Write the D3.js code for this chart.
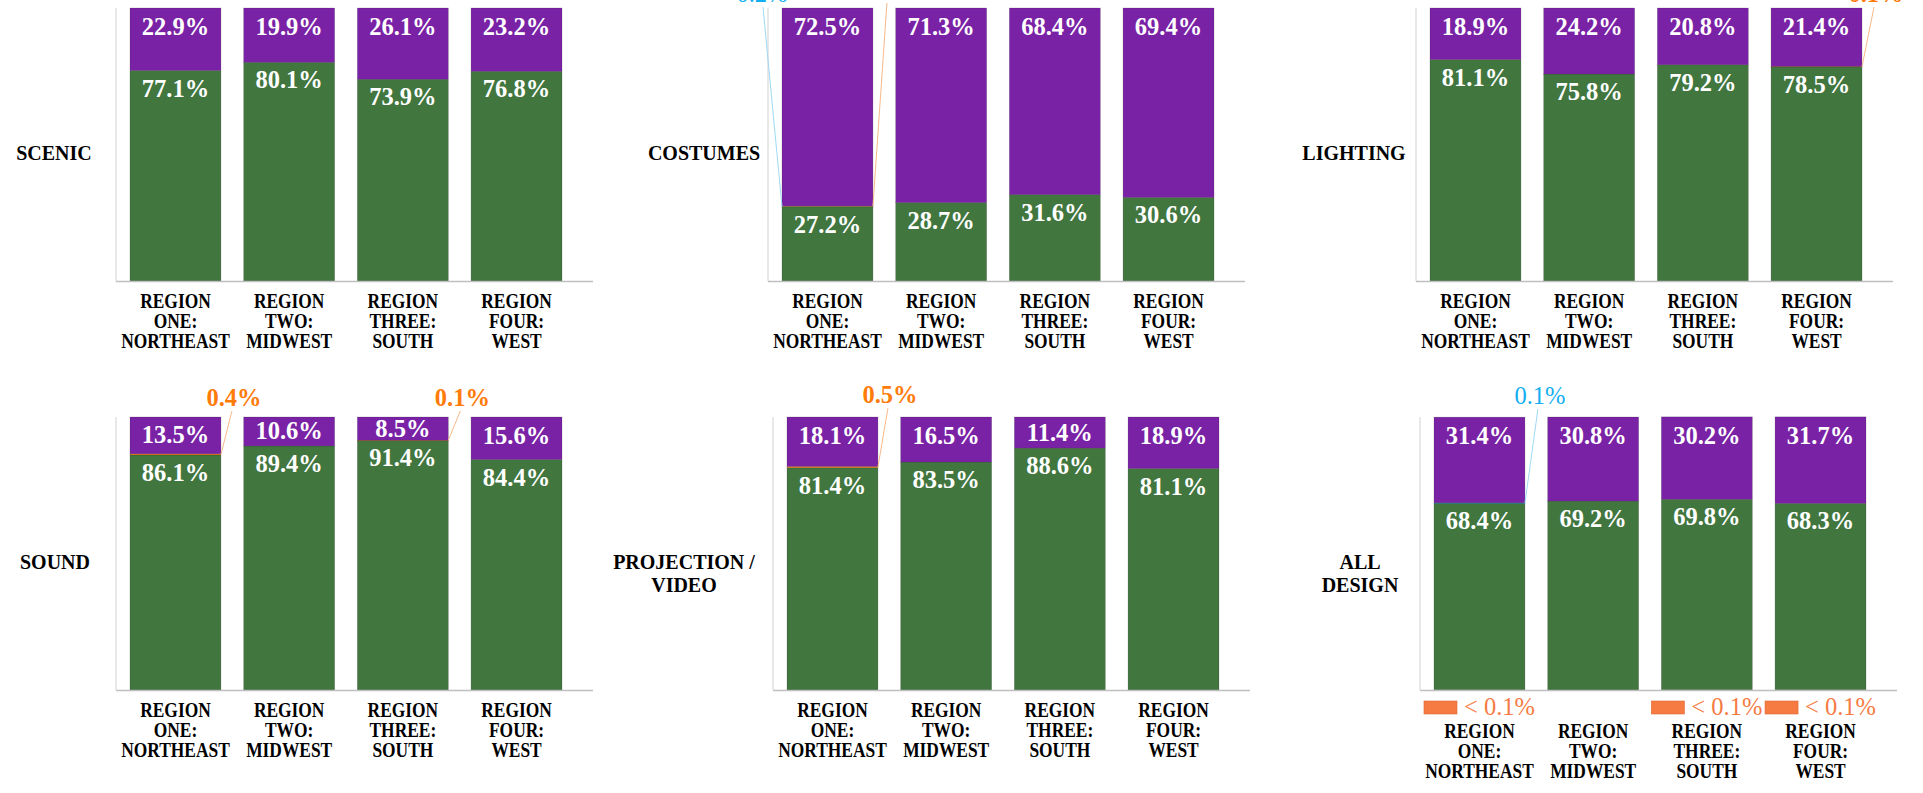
<!DOCTYPE html>
<html>
<head>
<meta charset="utf-8">
<script src="https://cdn.jsdelivr.net/npm/d3@7"></script>
<style>
html,body{margin:0;padding:0;background:#ffffff;overflow:hidden}
svg{display:block}
text{font-family:"Liberation Serif","Tinos","Times New Roman",serif;font-weight:bold}
</style>
</head>
<body>
<svg id="chart" width="1923" height="793"></svg>
<script>
// ---------------- DATA ----------------
const charts = ["SCENIC", "COSTUMES", "LIGHTING", "SOUND", "PROJECTION / VIDEO", "ALL DESIGN"];
const chartLabelLines = [["SCENIC"], ["COSTUMES"], ["LIGHTING"], ["SOUND"], ["PROJECTION /", "VIDEO"], ["ALL", "DESIGN"]];
const regions = ["REGION ONE: NORTHEAST", "REGION TWO: MIDWEST", "REGION THREE: SOUTH", "REGION FOUR: WEST"];
const regionLabelLines = [["REGION", "ONE:", "NORTHEAST"], ["REGION", "TWO:", "MIDWEST"], ["REGION", "THREE:", "SOUTH"], ["REGION", "FOUR:", "WEST"]];

// one row per chart, one value per region (percent)
const greenValues = [
  [77.1, 80.1, 73.9, 76.8],
  [27.2, 28.7, 31.6, 30.6],
  [81.1, 75.8, 79.2, 78.5],
  [86.1, 89.4, 91.4, 84.4],
  [81.4, 83.5, 88.6, 81.1],
  [68.4, 69.2, 69.8, 68.3]
];
const purpleValues = [
  [22.9, 19.9, 26.1, 23.2],
  [72.5, 71.3, 68.4, 69.4],
  [18.9, 24.2, 20.8, 21.4],
  [13.5, 10.6, 8.5, 15.6],
  [18.1, 16.5, 11.4, 18.9],
  [31.4, 30.8, 30.2, 31.7]
];
const orangeValues = [
  [0, 0, 0, 0],
  [0.1, 0, 0, 0],
  [0, 0, 0, 0.1],
  [0.4, 0, 0.1, 0],
  [0.5, 0, 0, 0],
  [0, 0, 0, 0]
];
const blueValues = [
  [0, 0, 0, 0],
  [0.2, 0, 0, 0],
  [0, 0, 0, 0],
  [0, 0, 0, 0],
  [0, 0, 0, 0],
  [0.1, 0, 0, 0]
];
// shown as "< 0.1%"
const coralValues = [
  [0, 0, 0, 0],
  [0, 0, 0, 0],
  [0, 0, 0, 0],
  [0, 0, 0, 0],
  [0, 0, 0, 0],
  [0.05, 0, 0.05, 0.05]
];
// small segments labelled with leader lines
const callouts = [
  {chart: 1, region: 0, key: "blue"},
  {chart: 1, region: 0, key: "orange"},
  {chart: 2, region: 3, key: "orange"},
  {chart: 3, region: 0, key: "orange"},
  {chart: 3, region: 2, key: "orange"},
  {chart: 4, region: 0, key: "orange"},
  {chart: 5, region: 0, key: "blue"}
];

// ---------------- LAYOUT / STYLE ----------------
const panelLayout = [
  {ax: 116,  top: 8,   base: 281, lx: 54},
  {ax: 768,  top: 8,   base: 281, lx: 704},
  {ax: 1416, top: 8,   base: 281, lx: 1354},
  {ax: 116,  top: 417, base: 690, lx: 55},
  {ax: 773,  top: 417, base: 690, lx: 684},
  {ax: 1420, top: 417, base: 690, lx: 1360}
];
const calloutLayout = [
  {side: "left",  dx: -20, dy: -6},
  {side: "right", dx: 16,  dy: -10},
  {side: "right", dx: 14,  dy: -6},
  {side: "right", dx: 13,  dy: -11},
  {side: "right", dx: 14,  dy: -11},
  {side: "right", dx: 12,  dy: -14},
  {side: "right", dx: 15,  dy: -13}
];
const plotWidth = 477;
const colors = {green: "#41763F", purple: "#7A22A6", orange: "#FF7B0A", blue: "#12AEF2", coral: "#F57B43"};
const lineColors = {orange: "#F9B98A", blue: "#9ED9F5"};
const calloutWeight = {orange: "bold", blue: "normal"};
const keys = ["coral", "green", "blue", "orange", "purple"];
const seriesArrays = {green: greenValues, purple: purpleValues, orange: orangeValues, blue: blueValues, coral: coralValues};

const svg = d3.select("#chart");
const fmt = v => v.toFixed(1) + "%";

charts.forEach((chartName, ci) => {
  const L = panelLayout[ci];
  const g = svg.append("g");

  const rows = regions.map((r, ri) => {
    const o = {region: r, ri};
    keys.forEach(k => o[k] = seriesArrays[k][ci][ri]);
    return o;
  });
  const stacked = d3.stack().keys(keys)(rows);

  const x = d3.scaleBand().domain(regions)
    .range([L.ax + 14, L.ax + 14 + 432]).paddingInner(0.2).paddingOuter(0);
  const y = d3.scaleLinear().domain([0, 100]).range([L.base, L.top]);

  // y axis line
  g.append("line").attr("x1", L.ax).attr("x2", L.ax).attr("y1", L.top).attr("y2", L.base)
    .attr("stroke", "#D9D9D9").attr("stroke-width", 1.2);

  // bars
  stacked.forEach(layer => {
    g.append("g").selectAll("rect").data(layer.filter(d => d[1] - d[0] > 0)).join("rect")
      .attr("x", d => x(d.data.region))
      .attr("width", x.bandwidth())
      .attr("y", d => y(d[1]))
      .attr("height", d => Math.max(0.6, y(d[0]) - y(d[1])))
      .attr("fill", colors[layer.key])
      .attr("stroke", layer.key === "coral" ? "none" : "rgba(40,40,40,0.3)")
      .attr("stroke-width", 0.6);
  });

  // x axis line
  g.append("line").attr("x1", L.ax).attr("x2", L.ax + plotWidth).attr("y1", L.base + 0.5).attr("y2", L.base + 0.5)
    .attr("stroke", "#BFBFBF").attr("stroke-width", 1.3);

  // value labels in green and purple segments
  const layerOf = k => stacked.find(s => s.key === k);
  layerOf("green").forEach(d => {
    g.append("text").attr("x", x(d.data.region) + x.bandwidth() / 2).attr("y", y(d[1]) + 26)
      .attr("text-anchor", "middle").attr("fill", "#fff").attr("font-size", 24.5).text(fmt(d.data.green));
  });
  layerOf("purple").forEach(d => {
    const h = y(d[0]) - y(d[1]);
    g.append("text").attr("x", x(d.data.region) + x.bandwidth() / 2).attr("y", y(d[1]) + Math.min(27, h / 2 + 8))
      .attr("text-anchor", "middle").attr("fill", "#fff").attr("font-size", 24.5).text(fmt(d.data.purple));
  });

  // "< 0.1%" labels with key below axis
  const hasCoral = coralValues[ci].some(v => v > 0);
  layerOf("coral").forEach(d => {
    if (!(d.data.coral > 0)) return;
    const cx = x(d.data.region) + x.bandwidth() / 2;
    const grp = g.append("g");
    const t = grp.append("text").attr("y", L.base + 25).attr("fill", colors.coral).attr("font-size", 24.5)
      .style("font-weight", "normal").text(d.data.coral < 0.1 ? "< 0.1%" : fmt(d.data.coral));
    const tw = t.node().getComputedTextLength();
    const total = 33 + 7 + tw;
    const left = cx - total / 2;
    grp.append("rect").attr("x", left).attr("y", L.base + 11).attr("width", 33).attr("height", 13)
      .attr("fill", colors.coral).attr("stroke", "#E0672F").attr("stroke-width", 0.6);
    t.attr("x", left + 40);
  });

  // category labels (condensed)
  const catShift = hasCoral ? 21 : 0;
  regions.forEach((r, ri) => {
    const cx = x(r) + x.bandwidth() / 2;
    regionLabelLines[ri].forEach((line, li) => {
      g.append("text").attr("transform", `translate(${cx},${L.base + 27 + catShift + li * 20}) scale(0.87,1)`)
        .attr("text-anchor", "middle").attr("fill", "#000").attr("font-size", 20).text(line);
    });
  });

  // chart name label
  const mid = (L.top + L.base) / 2;
  chartLabelLines[ci].forEach((line, li) => {
    g.append("text").attr("x", L.lx).attr("y", mid + 15 + li * 23)
      .attr("text-anchor", "middle").attr("fill", "#000").attr("font-size", 20).text(line);
  });

  // callouts with leader lines
  callouts.forEach((c, k) => {
    if (c.chart !== ci) return;
    const lay = calloutLayout[k];
    const d = layerOf(c.key)[c.region];
    const bx = x(regions[c.region]);
    const edge = lay.side === "right" ? bx + x.bandwidth() : bx;
    const sy = (y(d[0]) + y(d[1])) / 2;
    const lx = edge + lay.dx;
    const ly = L.top + lay.dy;
    g.append("line").attr("x1", edge).attr("y1", sy)
      .attr("x2", lx + (lay.side === "right" ? -2 : 1)).attr("y2", ly + 5)
      .attr("stroke", lineColors[c.key]).attr("stroke-width", 1);
    g.append("text").attr("x", lx).attr("y", ly).attr("text-anchor", "middle")
      .attr("fill", colors[c.key]).attr("font-size", 24.5).style("font-weight", calloutWeight[c.key])
      .text(fmt(seriesArrays[c.key][ci][c.region]));
  });
});
</script>
</body>
</html>
